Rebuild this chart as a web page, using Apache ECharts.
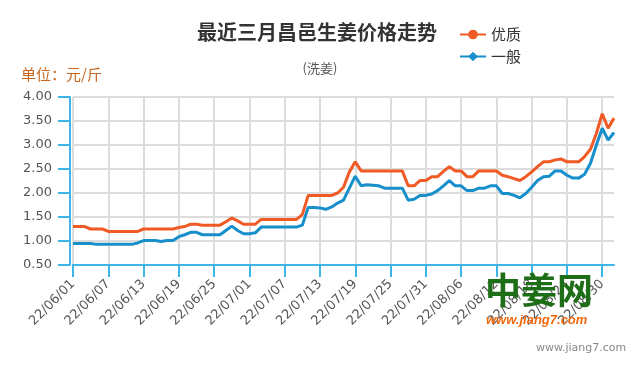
<!DOCTYPE html>
<html><head><meta charset="utf-8">
<script src="https://cdn.jsdelivr.net/npm/echarts@6/dist/echarts.min.js"></script>
<style>html,body{margin:0;padding:0;background:#fff}#c{width:640px;height:370px}</style>
</head><body><div id="c"></div>
<script>
const dates = [
'22/06/01','22/06/02','22/06/03','22/06/04','22/06/05','22/06/06','22/06/07','22/06/08','22/06/09','22/06/10',
'22/06/11','22/06/12','22/06/13','22/06/14','22/06/15','22/06/16','22/06/17','22/06/18','22/06/19','22/06/20',
'22/06/21','22/06/22','22/06/23','22/06/24','22/06/25','22/06/26','22/06/27','22/06/28','22/06/29','22/06/30',
'22/07/01','22/07/02','22/07/03','22/07/04','22/07/05','22/07/06','22/07/07','22/07/08','22/07/09','22/07/10',
'22/07/11','22/07/12','22/07/13','22/07/14','22/07/15','22/07/16','22/07/17','22/07/18','22/07/19','22/07/20',
'22/07/21','22/07/22','22/07/23','22/07/24','22/07/25','22/07/26','22/07/27','22/07/28','22/07/29','22/07/30',
'22/07/31','22/08/01','22/08/02','22/08/03','22/08/04','22/08/05','22/08/06','22/08/07','22/08/08','22/08/09',
'22/08/10','22/08/11','22/08/12','22/08/13','22/08/14','22/08/15','22/08/16','22/08/17','22/08/18','22/08/19',
'22/08/20','22/08/21','22/08/22','22/08/23','22/08/24','22/08/25','22/08/26','22/08/27','22/08/28','22/08/29',
'22/08/30','22/08/31','22/09/01'];

const premium = [
1.30,1.30,1.30,1.25,1.25,1.25,1.20,1.20,1.20,1.20,
1.20,1.20,1.25,1.25,1.25,1.25,1.25,1.25,1.28,1.30,
1.35,1.35,1.33,1.33,1.33,1.33,1.40,1.48,1.42,1.35,
1.35,1.35,1.45,1.45,1.45,1.45,1.45,1.45,1.45,1.55,
1.95,1.95,1.95,1.95,1.95,2.00,2.12,2.44,2.65,2.46,
2.46,2.46,2.46,2.46,2.46,2.46,2.46,2.15,2.15,2.26,
2.26,2.34,2.34,2.45,2.55,2.46,2.46,2.34,2.34,2.46,
2.46,2.46,2.46,2.37,2.34,2.30,2.26,2.34,2.44,2.55,
2.65,2.65,2.69,2.71,2.65,2.65,2.65,2.76,2.91,3.24,
3.65,3.35,3.56];

const ordinary = [
0.95,0.95,0.95,0.95,0.93,0.93,0.93,0.93,0.93,0.93,
0.93,0.96,1.01,1.01,1.01,0.99,1.01,1.01,1.09,1.13,
1.18,1.18,1.13,1.13,1.13,1.13,1.22,1.31,1.22,1.15,
1.15,1.17,1.29,1.29,1.29,1.29,1.29,1.29,1.29,1.33,
1.70,1.70,1.69,1.66,1.71,1.79,1.85,2.10,2.35,2.15,
2.17,2.16,2.15,2.10,2.10,2.10,2.10,1.85,1.87,1.95,
1.95,1.98,2.05,2.15,2.26,2.15,2.15,2.05,2.05,2.10,
2.10,2.15,2.15,1.99,1.99,1.95,1.90,1.99,2.12,2.26,
2.34,2.35,2.46,2.46,2.37,2.31,2.31,2.39,2.62,3.00,
3.35,3.10,3.26];

const seriesNames = ['优质', '一般'];
const yMin = 0.5, yMax = 4, yStep = 0.5;

const chart = echarts.init(document.getElementById('c'), null, {renderer: 'canvas'});
const axisBlue = '#3db5e6';
chart.setOption({
  animation: false,
  backgroundColor: '#fff',
  title: [
    {text: '最近三月昌邑生姜价格走势', left: 192, top: 17,
     textStyle: {fontFamily: 'Noto Sans CJK SC', fontSize: 20, fontWeight: 'bold', color: '#333'}},
    {text: '(洗姜)', left: 'center', top: 57,
     textStyle: {fontFamily: 'Noto Sans CJK SC', fontSize: 13, fontWeight: 'normal', color: '#555'}},
    {text: '单位：元/斤', left: 16, top: 62,
     textStyle: {fontFamily: 'Noto Sans CJK SC', fontSize: 15, fontWeight: 'normal', color: '#c8661e'}}
  ],
  legend: {
    orient: 'vertical', left: 454, top: 22, itemWidth: 26, itemHeight: 12, itemGap: 7,
    textStyle: {fontFamily: 'Noto Sans CJK SC', fontSize: 15, color: '#333'},
    data: seriesNames
  },
  grid: {left: 73, right: 26, top: 97, bottom: 105, containLabel: false},
  xAxis: {
    type: 'category', data: dates, boundaryGap: false,
    axisLine: {lineStyle: {color: axisBlue, width: 2}},
    axisTick: {interval: 5, length: 12, lineStyle: {color: axisBlue, width: 2}},
    axisLabel: {interval: 5, rotate: 45, margin: 17, color: '#555', fontFamily: 'DejaVu Sans', fontSize: 13},
    splitLine: {show: true, interval: 5, lineStyle: {color: '#dcdcdc', width: 2}}
  },
  yAxis: {
    type: 'value', min: yMin, max: yMax, interval: yStep, offset: 3,
    axisLine: {show: true, lineStyle: {color: axisBlue, width: 2}},
    axisTick: {show: true, length: 12, lineStyle: {color: axisBlue, width: 2}},
    axisLabel: {margin: 18, color: '#555', fontFamily: 'DejaVu Sans', fontSize: 13,
      formatter: v => v.toFixed(2)},
    splitLine: {show: true, lineStyle: {color: '#dcdcdc', width: 2}}
  },
  series: [
    {name: seriesNames[0], type: 'line', data: premium, symbol: 'circle', symbolSize: 9, showSymbol: false,
     itemStyle: {color: '#f05a24'}, lineStyle: {color: '#f05a24', width: 3}},
    {name: seriesNames[1], type: 'line', data: ordinary, symbol: 'diamond', symbolSize: 10, showSymbol: false,
     itemStyle: {color: '#168fcb'}, lineStyle: {color: '#168fcb', width: 3}}
  ],
  graphic: [
    {type: 'text', left: 485, top: 272, z: 100,
     style: {text: '中姜网', fontFamily: 'Noto Sans CJK SC', fontSize: 36, fontWeight: 'bold', fill: '#1d6e16'}},
    {type: 'text', left: 486, top: 314, z: 100,
     style: {text: 'www.jiang7.com', fontFamily: 'Liberation Sans', fontSize: 13, fontWeight: 'bold', fontStyle: 'italic', fill: '#f26a10'}},
    {type: 'text', left: 536, top: 343, z: 100,
     style: {text: 'www.jiang7.com', fontFamily: 'DejaVu Sans', fontSize: 11, fill: '#888'}}
  ]
});
</script>
</body></html>
